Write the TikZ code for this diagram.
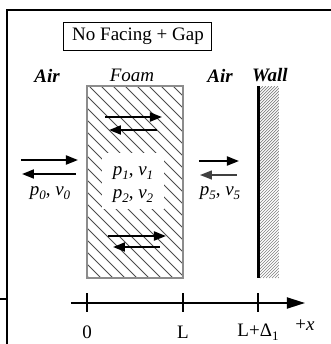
\documentclass[tikz,border=0pt]{standalone}
\usepackage{fontspec}
\setmainfont{Liberation Serif}
\usetikzlibrary{arrows.meta,positioning}
\newcommand{\lowsub}[1]{\raisebox{-0.45ex}{\fontsize{6.5}{7}\selectfont\itshape #1}}
\newcommand{\pvpair}[1]{\textit{p}\lowsub{#1}, \textit{v}\lowsub{#1}}

\begin{document}
\begin{tikzpicture}[x=0.5pt,y=-0.5pt,font=\fontsize{9.5}{11}\selectfont,
  wave/.style={line width=0.9pt,-{Triangle[length=6pt,width=4.5pt]}},
  medium/.style={font=\fontsize{9.5}{11}\selectfont\bfseries\itshape},
  tick/.style={line width=0.8pt}]
        \useasboundingbox (0,0) rectangle (331,344);
        % frame
        \draw[line width=1pt] (0,299) -- (7,299);
        \draw[line width=1pt] (7,344) -- (7,9.5) -- (331,9.5);
        \node[draw,line width=0.5pt,minimum width=74pt,minimum height=14pt,inner sep=0pt] (title) at (138,36) {No Facing + Gap};
        % foam layer
        \begin{scope}
          \clip (87,86) rectangle (183,278);
          \foreach \s in {-103,-91,...,179}
            \draw[line width=0.4pt,black!70] (\s,86) -- (\s+192,278);
        \end{scope}
        \fill[white] (102,153) rectangle (164,209);
        \draw[line width=0.6pt,black!45] (87,86) rectangle (183,278);
        % wall
        \begin{scope}
          \clip (260,86) rectangle (279,278);
          \foreach \s in {68,71,...,281}
            \draw[line width=0.35pt,gray] (\s,278) -- (\s+192,86);
        \end{scope}
        \draw[line width=1.6pt] (258.5,86) -- (258.5,278);
        % media
        \node[medium] (airL) at (47,76) {Air};
        \node[font=\fontsize{9.5}{11}\selectfont\itshape] (foam) at (132,75) {Foam};
        \node[medium] (airR) at (220,76) {Air};
        \node[medium] (wall) at (270,75) {Wall};
        % waves
        \draw[wave] (21,160) -- (78,160);
        \draw[wave] (76,174) -- (22,174);
        \draw[wave] (105,117) -- (162,117);
        \draw[wave] (157,130) -- (109,130);
        \draw[wave] (108,236) -- (166,236);
        \draw[wave] (160,247) -- (113,247);
        \draw[wave] (199,161) -- (239,161);
        \draw[wave,line width=0.7pt,black!75] (237,175) -- (200,175);
        \node (pv0) at (50,193) {\pvpair{0}};
        \node (pv1) at (133,173) {\pvpair{1}};
        \node (pv2) at (133,196) {\pvpair{2}};
        \node (pv5) at (220,193) {\pvpair{5}};
        % axis
        \draw[line width=0.9pt,-{Triangle[length=9pt,width=5.5pt]}] (71,303) -- (305,303);
        \foreach \x/\t/\n in {87/0/zero,183/L/len,258/{L+Δ\raisebox{-0.45ex}{\fontsize{6.5}{7}\selectfont 1}}/gap} {
          \draw[tick] (\x,293) -- (\x,312);
          \node (\n) at (\x,332) {\t};
        }
        \node (xlab) at (305,325) {+\textit{x}};
      \end{tikzpicture}
\end{document}
